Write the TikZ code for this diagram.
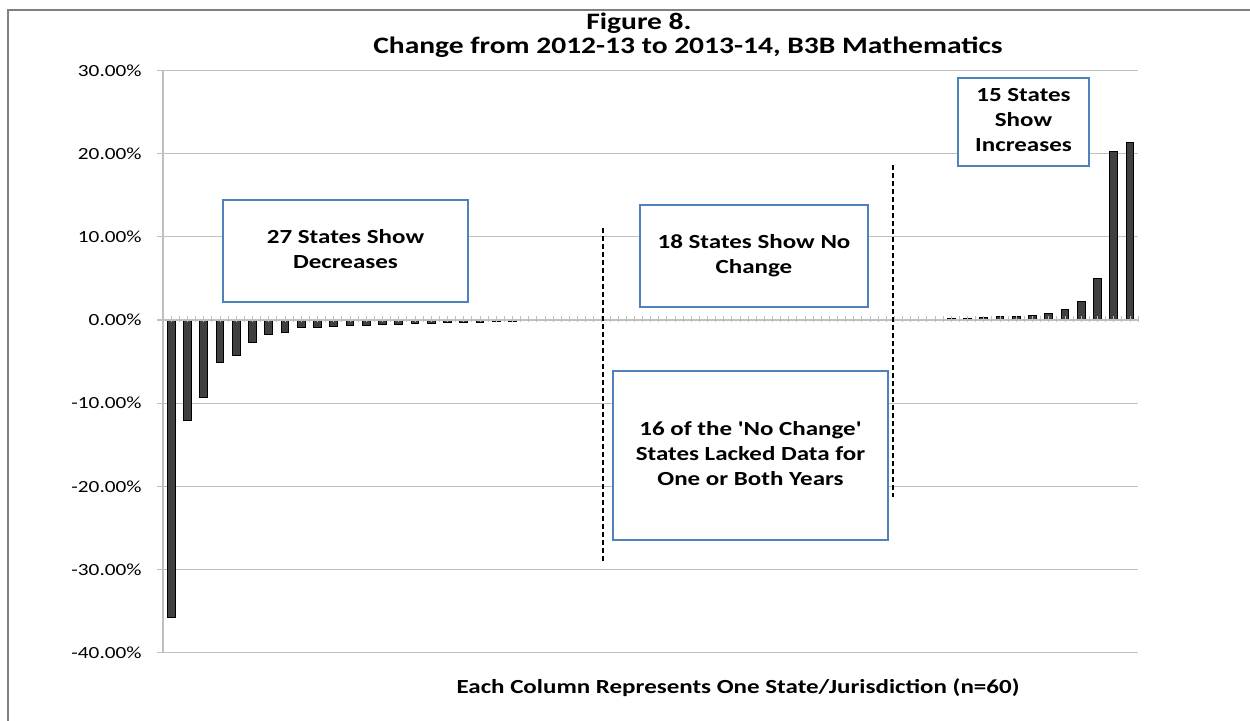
\documentclass[tikz,border=0pt]{standalone}
\usepackage{fontspec}
\setmainfont{Carlito}[Ligatures=TeXOff]
\usepackage{graphicx}
\usetikzlibrary{positioning}
\definecolor{barfill}{HTML}{404040}
\definecolor{boxblue}{HTML}{4F81BD}
\definecolor{gridgray}{HTML}{BFBFBF}
\newcommand{\wide}[1]{\scalebox{1.25}[1]{#1}}
\tikzset{
  my grid/.style={draw=gridgray,line width=0.6pt},
  my bar/.style={fill=barfill,draw=black,line width=0.4pt},
  my box/.style={
    draw=boxblue,
    fill=white,
    line width=0.6pt,
    inner sep=0pt,
    font=\fontsize{10}{12.5}\selectfont\bfseries
  },
  my tick label/.style={anchor=east,inner sep=0pt,font=\fontsize{8.5}{10}\selectfont},
  my divider/.style={draw=black,line width=0.7pt,dash pattern=on 2.5pt off 1.5pt},
  my title/.style={inner sep=0pt,font=\fontsize{11.8}{13}\selectfont\bfseries}
}

\begin{document}
\begin{tikzpicture}[x=0.5pt,y=-0.5pt]
\useasboundingbox (0,0) rectangle (1250,721);
\draw[gray,line width=0.8pt] (8,721) -- (8,10) -- (1250,10);
\node[my title] (title) at (639,23) {\wide{Figure 8.}};
\node[my title] (subtitle) at (688,47) {\wide{Change from 2012-13 to 2013-14, B3B Mathematics}};
\foreach \k in {3,2,...,-4}{
  \pgfmathtruncatemacro\p{\k*10}
  \draw[my grid] (157,{320-83.2*\k}) -- (1138,{320-83.2*\k});
  \node[my tick label] (lab\k) at (142,{320-83.2*\k}) {\wide{\p.00\%}};
}
\draw[my grid] (163,70.4) -- (163,652.8);
\foreach \v [count=\i] in {-35.8,-12.1,-9.3,-5.1,-4.3,-2.7,-1.7,-1.5,-0.9,-0.9,
    -0.8,-0.6,-0.6,-0.5,-0.5,-0.4,-0.4,-0.3,-0.3,-0.3,-0.2,-0.2,
    -0.05,-0.05,-0.05,-0.05,-0.05,
    0,0,0,0,0,0,0,0,0,0,0,0,0,0,0,0,0,0,
    0.1,0.1,0.1,0.15,0.25,0.3,0.4,0.4,0.6,0.75,1.25,2.2,5.0,20.3,21.3}{
  \ifdim \v pt=0pt\else
  \draw[my bar] ({163+16.25*(\i-0.5)-3.8},320) rectangle ({163+16.25*(\i-0.5)+3.8},{320-8.32*\v});
  \fi
}
\draw[my grid] (163,320) -- (1138,320);
\foreach \t in {0,...,120}
  \draw[my grid,line width=0.35pt] ({163+8.125*\t},316.5) -- ({163+8.125*\t},322.5);
\coordinate (cut1top) at (603,228);
\coordinate (cut1bot) at (603,563);
\coordinate (cut2top) at (893,165);
\coordinate (cut2bot) at (893,497);
\draw[my divider] (cut1top) -- (cut1bot);
\draw[my divider] (cut2top) -- (cut2bot);
\node[my box,minimum width=122.5pt,minimum height=51pt] (dec) at (345.5,251)
  {\wide{\begin{tabular}{@{}c@{}}27 States Show\\Decreases\end{tabular}}};
\node[my box,minimum width=114pt,minimum height=51pt] (same) at (754,256)
  {\wide{\begin{tabular}{@{}c@{}}18 States Show No\\Change\end{tabular}}};
\node[my box,minimum width=137.5pt,minimum height=84.5pt] (nodata) at (750.5,455.5)
  {\wide{\begin{tabular}{@{}c@{}}16 of the 'No Change'\\States Lacked Data for\\One or Both Years\end{tabular}}};
\node[my box,minimum width=65.5pt,minimum height=44pt] (inc) at (1023.5,122)
  {\wide{\begin{tabular}{@{}c@{}}15 States\\Show\\Increases\end{tabular}}};
\node[my title,font=\fontsize{10}{12}\selectfont\bfseries] (xcap) at (738,688)
  {\wide{Each Column Represents One State/Jurisdiction (n=60)}};
\end{tikzpicture}
\end{document}
